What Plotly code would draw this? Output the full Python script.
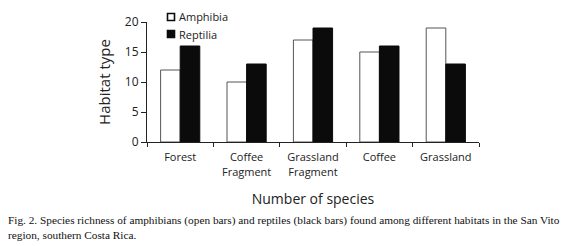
import plotly.graph_objects as go

categories = ["Forest", "Coffee<br>Fragment", "Grassland<br>Fragment", "Coffee", "Grassland"]
amphibia = [12, 10, 17, 15, 19]
reptilia = [16, 13, 19, 16, 13]
series_names = ["Amphibia", "Reptilia"]
y_ticks = [0, 5, 10, 15, 20]
caption = ("Fig. 2. Species richness of amphibians (open bars) and reptiles (black bars) found among different habitats in the San Vito"
           "<br>region, southern Costa Rica.")

W, H = 580, 246
L, R, T, B = 147, 101, 22, 104
pw, ph = W - L - R, H - T - B


def px(xp):
    return (xp - L) / pw


def py(yp):
    return (T + ph - yp) / ph


fig = go.Figure()
fig.add_trace(go.Bar(x=categories, y=amphibia, name=series_names[0], showlegend=False,
                     marker=dict(color="white", line=dict(color="#555555", width=1))))
fig.add_trace(go.Bar(x=categories, y=reptilia, name=series_names[1], showlegend=False,
                     marker=dict(color="#0b0b0b", line=dict(color="#0b0b0b", width=1))))

sans = "Open Sans, Lato, sans-serif"

# manual legend (squares + real text)
legend_items = [(series_names[0], "white", 17), (series_names[1], "#0b0b0b", 34)]
shapes = []
annotations = []
for name, fill, cy in legend_items:
    shapes.append(dict(type="rect", xref="paper", yref="paper",
                       x0=px(167.5), x1=px(174.5), y0=py(cy + 3.5), y1=py(cy - 3.5),
                       fillcolor=fill, line=dict(color="#0b0b0b", width=1.6)))
    annotations.append(dict(text=name, xref="paper", yref="paper", x=px(176.5), y=py(cy),
                            xanchor="left", yanchor="middle", showarrow=False,
                            font=dict(family=sans, size=11, color="#222222")))

annotations.append(dict(text=caption, xref="paper", yref="paper",
                        x=px(6), y=py(212), xanchor="left", yanchor="top",
                        align="left", showarrow=False,
                        font=dict(family="Liberation Serif, Times New Roman, serif", size=11.3, color="#111111")))

fig.update_layout(
    width=W, height=H,
    margin=dict(l=L, r=R, t=T, b=B, pad=0),
    paper_bgcolor="white", plot_bgcolor="white",
    barmode="group", bargap=0.41, bargroupgap=0,
    font=dict(family=sans, size=11, color="#222222"),
    showlegend=False,
    xaxis=dict(showline=True, linecolor="#222222", linewidth=1,
               ticks="outside", tickson="boundaries", ticklen=4, tickcolor="#222222",
               tickfont=dict(size=11, family=sans), ticklabelstandoff=5,
               title=dict(text="Number of species", font=dict(size=14, family=sans), standoff=16),
               showgrid=False, zeroline=False),
    yaxis=dict(range=[0, 20], tickvals=y_ticks, showline=True, linecolor="#222222", linewidth=1,
               ticks="outside", ticklen=5, tickcolor="#222222",
               tickfont=dict(size=12, family=sans),
               title=dict(text="Habitat type", font=dict(size=15, family=sans), standoff=10),
               showgrid=False, zeroline=False),
    shapes=shapes,
    annotations=annotations,
)

fig.write_html("out.html", config={"displayModeBar": False, "staticPlot": True},
               post_script="document.body.style.margin='0';document.body.style.overflow='hidden';")
